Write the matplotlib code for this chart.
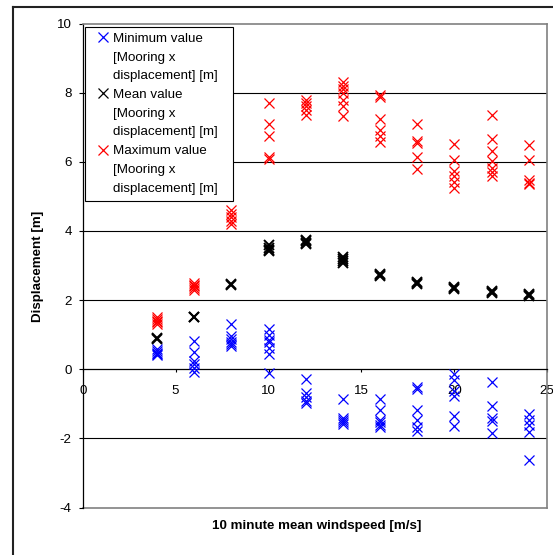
import matplotlib
matplotlib.use('Agg')
import matplotlib.pyplot as plt
from matplotlib.lines import Line2D
from matplotlib.patches import Rectangle

plt.rcParams['font.family'] = ['Liberation Sans', 'DejaVu Sans']
plt.rcParams['axes.unicode_minus'] = False

# ---- data ----
windspeed = [4, 6, 8, 10, 12, 14, 16, 18, 20, 22, 24]

min_disp = [
    [0.58, 0.52, 0.47, 0.43, 0.40],
    [0.83, 0.51, 0.24, 0.14, 0.03, -0.07],
    [1.30, 0.95, 0.88, 0.80, 0.72, 0.66],
    [1.15, 1.00, 0.85, 0.78, 0.60, 0.44, -0.12],
    [-0.27, -0.70, -0.81, -0.93, -0.99],
    [-0.85, -1.41, -1.46, -1.52, -1.58],
    [-0.87, -1.17, -1.46, -1.54, -1.61, -1.68],
    [-0.52, -0.58, -1.17, -1.46, -1.68, -1.78],
    [-0.14, -0.31, -0.64, -0.78, -1.36, -1.64],
    [-0.36, -1.06, -1.42, -1.50, -1.84],
    [-1.30, -1.47, -1.61, -1.81, -2.63],
]

mean_disp = [
    [0.90, 0.88],
    [1.52, 1.50],
    [2.46, 2.44],
    [3.58, 3.52, 3.46, 3.42],
    [3.75, 3.70, 3.65, 3.62],
    [3.26, 3.20, 3.12, 3.08],
    [2.76, 2.72, 2.70],
    [2.53, 2.50, 2.47],
    [2.38, 2.35, 2.32],
    [2.27, 2.24, 2.21],
    [2.18, 2.15, 2.12],
]

max_disp = [
    [1.50, 1.45, 1.40, 1.36, 1.32],
    [2.50, 2.45, 2.40, 2.35, 2.30],
    [4.60, 4.50, 4.40, 4.30, 4.20],
    [7.71, 7.08, 6.76, 6.14, 6.09],
    [7.78, 7.70, 7.62, 7.50, 7.35],
    [8.30, 8.20, 8.10, 8.00, 7.80, 7.62, 7.33],
    [7.92, 7.88, 7.25, 6.93, 6.76, 6.57],
    [7.10, 6.60, 6.55, 6.14, 5.80],
    [6.52, 6.05, 5.72, 5.60, 5.41, 5.25],
    [7.34, 6.67, 6.31, 6.02, 5.83, 5.70, 5.60],
    [6.48, 6.04, 5.47, 5.40, 5.37],
]

series_labels = [
    ["Minimum value", "[Mooring x", "displacement] [m]"],
    ["Mean value", "[Mooring x", "displacement] [m]"],
    ["Maximum value", "[Mooring x", "displacement] [m]"],
]
series_colors = ["#0000FF", "#000000", "#FF0000"]
series_mew = [0.9, 1.4, 0.9]

x_ticks = [0, 5, 10, 15, 20, 25]
y_ticks = [-4, -2, 0, 2, 4, 6, 8, 10]
grid_levels = [-2, 2, 4, 6, 8]


def flatten(xs, groups):
    fx, fy = [], []
    for x, vals in zip(xs, groups):
        for v in vals:
            fx.append(x)
            fy.append(v)
    return fx, fy


W, H = 553, 555
fig = plt.figure(figsize=(W / 100, H / 100), dpi=100)
ax = fig.add_axes([82.7 / W, 47.5 / H, 464.6 / W, 484 / H])

ax.set_xlim(0, 25)
ax.set_ylim(-4, 10)

for lvl in grid_levels:
    ax.axhline(lvl, color='black', lw=0.8, zorder=1)
ax.axhline(-4, color='#808080', lw=1.2, zorder=1, clip_on=False)

for groups, col, mew in zip([min_disp, mean_disp, max_disp], series_colors, series_mew):
    fx, fy = flatten(windspeed, groups)
    ax.plot(fx, fy, linestyle='none', marker='x', color=col,
            markersize=6.5, markeredgewidth=mew, zorder=3)

# spines
ax.spines['left'].set_color('black')
ax.spines['left'].set_linewidth(0.9)
ax.spines['bottom'].set_position(('data', 0))
ax.spines['bottom'].set_color('black')
ax.spines['bottom'].set_linewidth(0.9)
for s in ['top', 'right']:
    ax.spines[s].set_color('#808080')
    ax.spines[s].set_linewidth(1.2)

ax.set_xticks(x_ticks)
ax.set_yticks(y_ticks)
ax.tick_params(axis='y', direction='out', length=3, width=0.8, pad=5,
               labelsize=9.6, colors='black')
ax.tick_params(axis='x', direction='out', length=2.5, width=0.8, pad=9,
               labelsize=9.6, colors='black')

fig.text(317 / W, 1 - 526 / H, "10 minute mean windspeed [m/s]",
         ha='center', va='center', fontsize=9.6, fontweight='bold')
fig.text(38.3 / W, 1 - 266 / H, "Displacement [m]", rotation=90,
         ha='center', va='center', fontsize=9.6, fontweight='bold')

# legend
handles, labels = [], []
for lines, col in zip(series_labels, series_colors):
    for i, txt in enumerate(lines):
        if i == 0:
            handles.append(Line2D([], [], linestyle='none', marker='x',
                                  color=col, markersize=6.5,
                                  markeredgewidth=0.9))
        else:
            handles.append(Line2D([], [], linestyle='none'))
        labels.append(txt)

ax.add_patch(Rectangle((0.005, 0.6333), 0.3185, 0.3595, transform=ax.transAxes,
                       facecolor='white', edgecolor='black', lw=0.8,
                       zorder=4, clip_on=False))
leg = ax.legend(handles, labels, loc='upper left',
                bbox_to_anchor=((96.35 - 82.7) / 464.6, (507.5 - 32.5) / 484),
                frameon=False, borderpad=0, borderaxespad=0,
                handlelength=1.0, handletextpad=0.275, labelspacing=0.48,
                fontsize=9.6, numpoints=1)
leg.set_zorder(5)

# outer chart border
fig.add_artist(Line2D([12.8 / W, 1], [1 - 7 / H, 1 - 7 / H], color='#222222',
                      lw=1.5, transform=fig.transFigure))
fig.add_artist(Line2D([12.8 / W, 12.8 / W], [0, 1 - 7 / H], color='#222222',
                      lw=1.5, transform=fig.transFigure))

fig.savefig('out.png', dpi=100)
